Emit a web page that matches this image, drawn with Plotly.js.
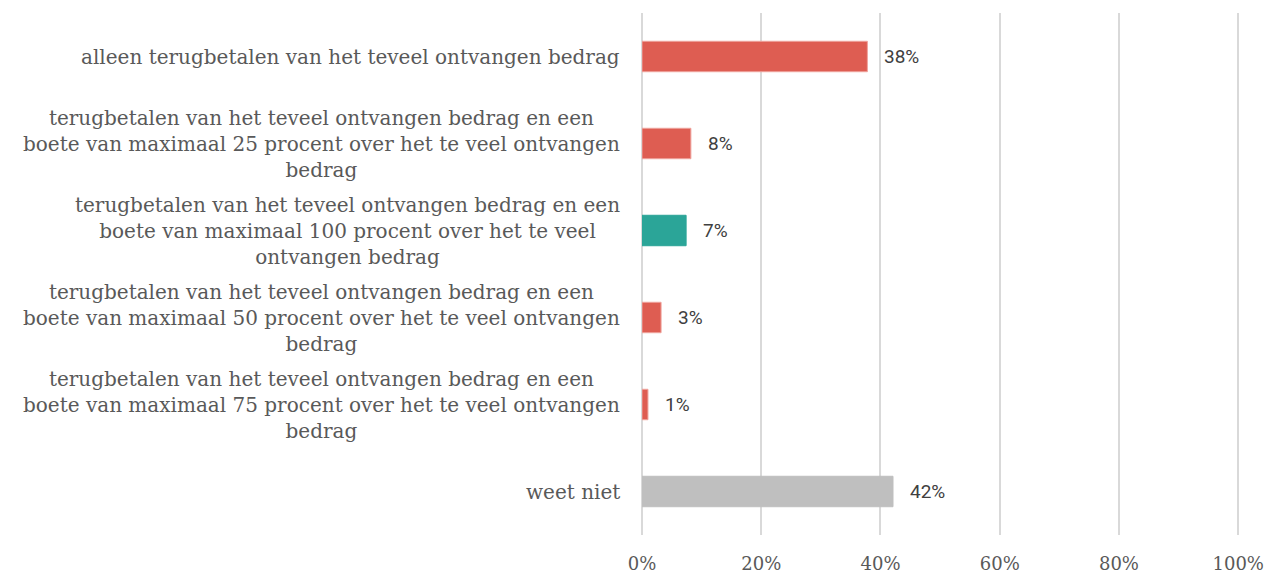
<!DOCTYPE html>
<html>
<head>
<meta charset="utf-8">
<script src="https://cdn.plot.ly/plotly-3.0.1.min.js"></script>
<style>html,body{margin:0;padding:0;background:#fff;}#chart{width:1269px;height:575px;}</style>
</head>
<body>
<div id="chart"></div>
<script>
const categories = [
  "alleen terugbetalen van het teveel ontvangen bedrag",
  "terugbetalen van het teveel ontvangen bedrag en een<br>boete van maximaal 25 procent over het te veel ontvangen<br>bedrag",
  "terugbetalen van het teveel ontvangen bedrag en een<br>boete van maximaal 100 procent over het te veel<br>ontvangen bedrag",
  "terugbetalen van het teveel ontvangen bedrag en een<br>boete van maximaal 50 procent over het te veel ontvangen<br>bedrag",
  "terugbetalen van het teveel ontvangen bedrag en een<br>boete van maximaal 75 procent over het te veel ontvangen<br>bedrag",
  "weet niet"
];
const values = [37.8, 8.2, 7.4, 3.2, 1.0, 42.1];
const valueLabels = ["38%", "8%", "7%", "3%", "1%", "42%"];
const barColors = ["#DE5D52", "#DE5D52", "#2BA598", "#DE5D52", "#DE5D52", "#BFBFBF"];
const barEdges = ["#EFA39D", "#EFA39D", "#2BA598", "#EFA39D", "#EFA39D", "#BFBFBF"];
const tickVals = [0, 20, 40, 60, 80, 100];
const tickText = ["0%", "20%", "40%", "60%", "80%", "100%"];

const serif = "'DejaVu Serif', serif";

const annotations = [];
categories.forEach((c, i) => {
  annotations.push({
    xref: 'paper', yref: 'y', x: 0, y: c, xanchor: 'right', yanchor: 'middle',
    xshift: -20, text: c, align: 'center', showarrow: false,
    font: {family: serif, size: 20, color: '#595959'}
  });
  annotations.push({
    xref: 'x', yref: 'y', x: values[i], y: c, xanchor: 'left', yanchor: 'middle',
    xshift: 15, text: valueLabels[i], showarrow: false,
    font: {family: 'Roboto, sans-serif', size: 19, color: '#404040'}
  });
});

const trace = {
  type: 'bar', orientation: 'h', y: categories, x: values,
  marker: {color: barColors, line: {color: barEdges, width: 1}},
  width: 0.35, hoverinfo: 'none'
};

const layout = {
  width: 1269, height: 575,
  margin: {l: 642, r: 29, t: 13, b: 40},
  paper_bgcolor: '#fff', plot_bgcolor: '#fff',
  showlegend: false,
  xaxis: {
    range: [0, 100.3], tickvals: tickVals, ticktext: tickText,
    showgrid: true, gridcolor: '#D9D9D9', gridwidth: 2,
    zeroline: true, zerolinecolor: '#D9D9D9', zerolinewidth: 2,
    showline: false, ticks: '', ticklabelstandoff: 16,
    tickfont: {family: serif, size: 18, color: '#595959'},
    fixedrange: true
  },
  yaxis: {
    autorange: 'reversed', showticklabels: false, showgrid: false,
    zeroline: false, showline: false, ticks: '', fixedrange: true
  },
  annotations: annotations
};

Plotly.newPlot('chart', [trace], layout, {displayModeBar: false, staticPlot: true});
</script>
</body>
</html>
